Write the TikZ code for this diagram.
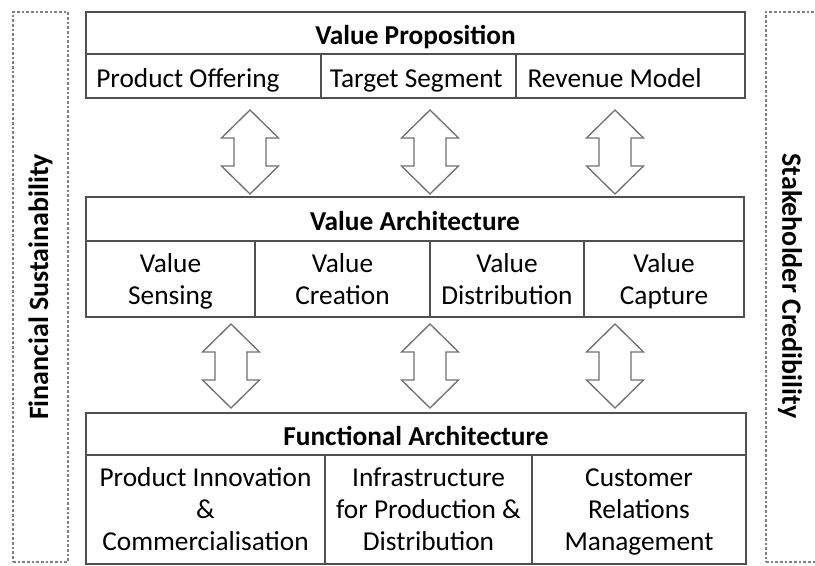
\documentclass[tikz,border=0pt]{standalone}
\usepackage{fontspec}
\setmainfont{Carlito}
\usetikzlibrary{fit}

\definecolor{boxgray}{HTML}{505050}
\definecolor{arrowgray}{HTML}{707070}
\definecolor{sidegray}{HTML}{808080}

\tikzset{
	cell/.style = {draw = boxgray, line width = 1pt, inner sep = 0pt},
	celltext/.style = {align = center, inner sep = 0pt, yshift = -3.5pt, font = \fontsize{20.5}{24}\selectfont,
		execute at begin node = \strut, execute at end node = \strut},
	headtext/.style = {celltext, font = \fontsize{20.5}{24}\selectfont\bfseries},
	sidebox/.style = {draw = sidegray, line width = 0.8pt, dash pattern = on 2pt off 1.5pt, inner sep = 0pt},
	sidetext/.style = {font = \fontsize{21}{24}\selectfont\bfseries},
	updown/.pic = {
		\draw [arrowgray, line width = 1pt, fill = white, line join = miter]
			(0, 0) -- (28.5, 28) -- (16, 28) -- (16, 56) -- (28.5, 56) -- (0, 84)
			-- (-28.5, 56) -- (-16, 56) -- (-16, 28) -- (-28.5, 28) -- cycle;
	}
}

\begin{document}
\begin{tikzpicture}[x = 0.75pt, y = -0.75pt]

	\useasboundingbox (0, 0) rectangle (815, 566);

	% Side pillars

	\node [sidebox, fit = {(13, 12) (68, 562)}] (fin) {};
	\node [sidebox, fit = {(766, 12) (830, 562)}] (stake) {};
	\node [sidetext, rotate = 90] (fintext) at (fin.center) {Financial Sustainability};
	\node [sidetext, rotate = -90] (staketext) at (790, 286) {Stakeholder Credibility};

	% Value proposition

	\node [cell, fit = {(86, 12) (745, 54)}] (vp) {};
	\node [cell, fit = {(86, 54) (321, 98)}] (offer) {};
	\node [cell, fit = {(321, 54) (516, 98)}] (segment) {};
	\node [cell, fit = {(516, 54) (745, 98)}] (revenue) {};
	\node [headtext] (vptext) at (vp.center) {Value Proposition};
	\node [celltext, anchor = west] (offertext) at ([xshift = 8pt] offer.west) {Product Offering};
	\node [celltext, anchor = west] (segmenttext) at ([xshift = 7pt] segment.west) {Target Segment};
	\node [celltext, anchor = west] (revenuetext) at ([xshift = 9pt] revenue.west) {Revenue Model};

	% Value architecture

	\node [cell, fit = {(86, 197) (744, 241)}] (va) {};
	\node [cell, fit = {(86, 241) (255, 317)}] (sensing) {};
	\node [cell, fit = {(255, 241) (430, 317)}] (creation) {};
	\node [cell, fit = {(430, 241) (584, 317)}] (distribution) {};
	\node [cell, fit = {(584, 241) (744, 317)}] (capture) {};
	\node [headtext] (vatext) at (va.center) {Value Architecture};
	\node [celltext] (sensingtext) at (sensing.center) {Value\\Sensing};
	\node [celltext] (creationtext) at (creation.center) {Value\\Creation};
	\node [celltext] (distributiontext) at (distribution.center) {Value\\Distribution};
	\node [celltext] (capturetext) at (capture.center) {Value\\Capture};

	% Functional architecture

	\node [cell, fit = {(86, 413) (746, 455)}] (fa) {};
	\node [cell, fit = {(86, 455) (325, 564)}] (innovation) {};
	\node [cell, fit = {(325, 455) (532, 564)}] (infra) {};
	\node [cell, fit = {(532, 455) (746, 564)}] (crm) {};
	\node [headtext] (fatext) at (fa.center) {Functional Architecture};
	\node [celltext] (innovationtext) at (innovation.center) {Product Innovation\\\&\\Commercialisation};
	\node [celltext] (infratext) at (infra.center) {Infrastructure\\for Production \&\\Distribution};
	\node [celltext] (crmtext) at (crm.center) {Customer\\Relations\\Management};

	% Double arrows

	\foreach \x in {250, 430, 615} \pic at (\x, 110) {updown};
	\foreach \x in {231, 430, 615} \pic at (\x, 324) {updown};

\end{tikzpicture}
\end{document}
